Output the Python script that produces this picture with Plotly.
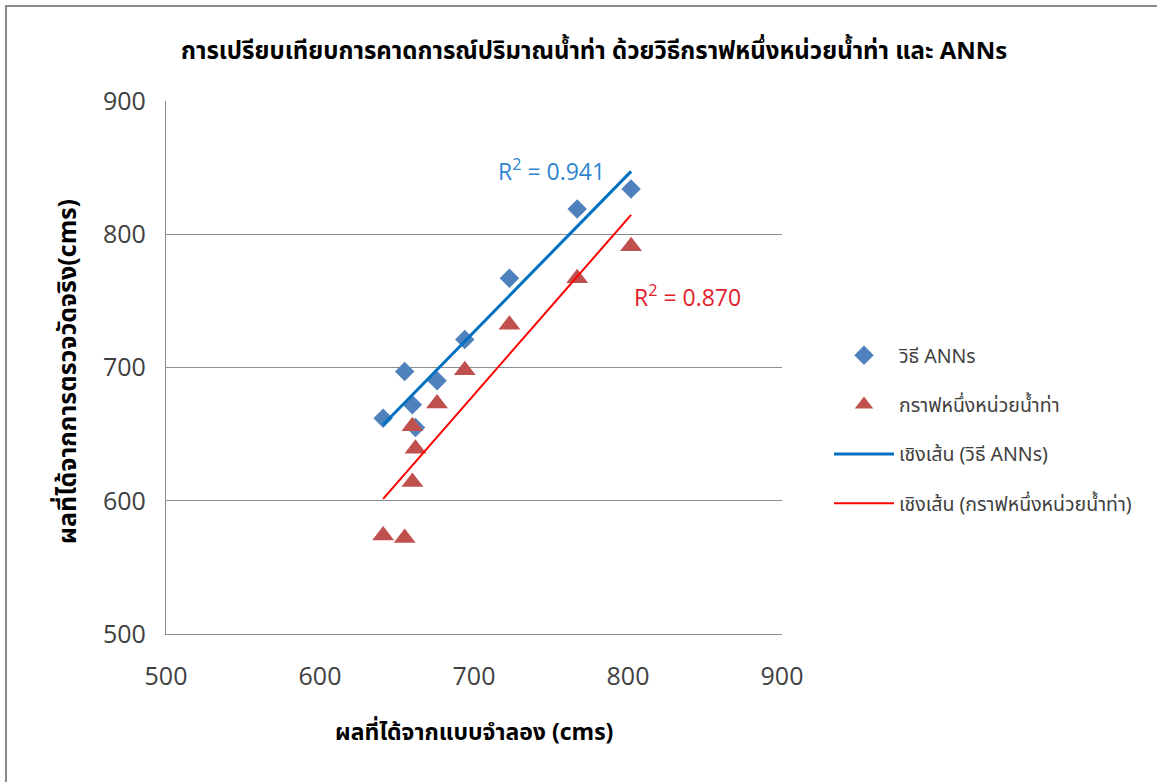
import numpy as np
import plotly.graph_objects as go

# Model output (x) vs. observed discharge (y), cms
ann_x = [641, 655, 660, 662, 676, 694, 723, 767, 802]
ann_y = [662, 697, 672, 655, 690, 721, 767, 819, 834]

uh_x = [641, 655, 660, 662, 660, 676, 694, 723, 767, 802]
uh_y = [574, 572, 614, 639, 656, 673, 698, 732, 767, 791]

ann_name = "วิธี ANNs"
uh_name = "กราฟหนึ่งหน่วยน้ำท่า"
ann_r2_text = "R<sup>2</sup> = 0.941"
uh_r2_text = "R<sup>2</sup> = 0.870"

x_ticks = [500, 600, 700, 800, 900]
y_ticks = [500, 600, 700, 800, 900]

BLUE_PT = "#4F81BD"
RED_PT = "#C0504D"
BLUE_LN = "#0070C0"
RED_LN = "#FF0000"
TXT = "#404040"
GRID = "#8C8C8C"
THAI = "Tahoma, 'Noto Sans Thai', 'Noto Sans', sans-serif"
NUM = "'Open Sans', Lato, sans-serif"


def linear_fit(xs, ys):
    slope, icpt = np.polyfit(xs, ys, 1)
    xs_line = np.array([min(xs), max(xs)], dtype=float)
    return xs_line, slope * xs_line + icpt


fig = go.Figure()

fig.add_trace(go.Scatter(
    x=ann_x, y=ann_y, mode="markers", name=ann_name, legendgroup="g1",
    marker=dict(symbol="diamond", size=15, color=BLUE_PT),
))
fig.add_trace(go.Scatter(
    x=uh_x, y=uh_y, mode="markers", name=uh_name, legendgroup="g2",
    marker=dict(symbol="triangle-up", size=19, color=RED_PT),
))

lx, ly = linear_fit(ann_x, ann_y)
fig.add_trace(go.Scatter(
    x=lx, y=ly, mode="lines", name="เชิงเส้น (" + ann_name + ")", legendgroup="g3",
    line=dict(color=BLUE_LN, width=3),
))
lx, ly = linear_fit(uh_x, uh_y)
fig.add_trace(go.Scatter(
    x=lx, y=ly, mode="lines", name="เชิงเส้น (" + uh_name + ")", legendgroup="g4",
    line=dict(color=RED_LN, width=2),
))

L, R, T, B = 166, 782, 101, 634
W, H = 1157, 782
pw, ph = R - L, B - T


def px_x(v):
    return (v - L) / pw


def px_y(v):
    return (B - v) / ph


axis_common = dict(
    zeroline=False, ticks="", showline=True,
    linecolor=GRID, linewidth=1.3, mirror=False,
    tickfont=dict(family=NUM, size=25, color=TXT),
    fixedrange=True,
)

fig.update_layout(
    width=W, height=H,
    margin=dict(l=L, r=W - R, t=T, b=H - B),
    paper_bgcolor="white", plot_bgcolor="white",
    xaxis=dict(range=[500, 900], tickvals=x_ticks, ticklabelstandoff=20,
               showgrid=False, **axis_common),
    yaxis=dict(range=[500, 900], tickvals=y_ticks, ticklabelstandoff=14,
               showgrid=True, gridcolor=GRID, gridwidth=1.3, **axis_common),
    showlegend=True,
    legend=dict(
        x=px_x(829), y=px_y(336), xanchor="left", yanchor="top",
        font=dict(family=THAI, size=19.5, color=TXT),
        tracegroupgap=21, itemwidth=60, bgcolor="rgba(0,0,0,0)",
    ),
    shapes=[
        dict(type="rect", xref="paper", yref="paper",
             x0=px_x(6), x1=px_x(W + 10), y0=px_y(6), y1=px_y(H + 10),
             line=dict(color="#8A8A8A", width=2), fillcolor="rgba(0,0,0,0)", layer="below"),
    ],
    annotations=[
        dict(text="<b>การเปรียบเทียบการคาดการณ์ปริมาณน้ำท่า ด้วยวิธีกราฟหนึ่งหน่วยน้ำท่า และ ANNs</b>",
             xref="paper", yref="paper", x=px_x(594), y=px_y(52),
             showarrow=False, font=dict(family=THAI, size=24, color="black"),
             xanchor="center", yanchor="middle"),
        dict(text="<b>ผลที่ได้จากแบบจำลอง (cms)</b>",
             xref="paper", yref="paper", x=px_x(474), y=px_y(733),
             showarrow=False, font=dict(family=THAI, size=23, color="black"),
             xanchor="center", yanchor="middle"),
        dict(text="<b>ผลที่ได้จากการตรวจวัดจริง(cms)</b>",
             xref="paper", yref="paper", x=px_x(68), y=px_y(372),
             showarrow=False, textangle=-90, font=dict(family=THAI, size=25, color="black"),
             xanchor="center", yanchor="middle"),
        dict(text=ann_r2_text, xref="paper", yref="paper", x=px_x(551), y=px_y(170),
             showarrow=False, font=dict(family=NUM, size=23, color="#2E86D0"),
             xanchor="center", yanchor="middle"),
        dict(text=uh_r2_text, xref="paper", yref="paper", x=px_x(687), y=px_y(296),
             showarrow=False, font=dict(family=NUM, size=23, color="#E0202A"),
             xanchor="center", yanchor="middle"),
    ],
)

fig.write_html("out.html", config={"displayModeBar": False})
